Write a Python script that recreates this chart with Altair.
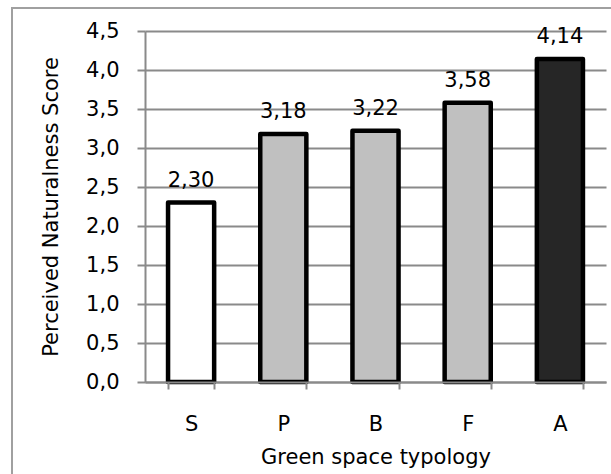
import altair as alt
import pandas as pd

categories = ["S", "P", "B", "F", "A"]
scores = [2.30, 3.18, 3.22, 3.58, 4.14]
fills = ["#ffffff", "#c0c0c0", "#c0c0c0", "#c0c0c0", "#262626"]
labels = ["2,30", "3,18", "3,22", "3,58", "4,14"]
y_ticks = [0.0, 0.5, 1.0, 1.5, 2.0, 2.5, 3.0, 3.5, 4.0, 4.5]

df = pd.DataFrame({"cat": categories, "score": scores, "fill": fills, "label": labels})

FONT = "DejaVu Sans"
GRID = "#8a8a8a"
FS = 21

x = alt.X("cat:N", sort=categories, scale=alt.Scale(paddingInner=0.5, paddingOuter=0.25),
          axis=alt.Axis(title="Green space typology", labelAngle=0, tickBand="extent",
                        tickSize=7, labelPadding=24, titlePadding=12, domainColor=GRID,
                        tickColor=GRID, domainWidth=2, tickWidth=2, grid=False, zindex=1,
                        labelFont=FONT, titleFont=FONT, labelFontSize=FS, titleFontSize=FS,
                        labelColor="black", titleColor="black", titleFontWeight="normal"))
y = alt.Y("score:Q", scale=alt.Scale(domain=[0, 4.5], nice=False, zero=True),
          axis=alt.Axis(title="Perceived Naturalness Score", values=y_ticks,
                        labelExpr="replace(format(datum.value, '.1f'), '.', ',')",
                        labelOverlap=False, labelFlush=False,
                        tickSize=8, labelPadding=18, titlePadding=24, domainColor=GRID,
                        tickColor=GRID, gridColor=GRID, domainWidth=2, tickWidth=2, gridWidth=2,
                        labelFont=FONT, titleFont=FONT, labelFontSize=FS, titleFontSize=FS,
                        labelColor="black", titleColor="black", titleFontWeight="normal"))

border = alt.Chart(pd.DataFrame({"a": [0]})).mark_rect(
    fill=None, stroke="#a0a0a0", strokeWidth=2, clip=False
).encode(x=alt.value(-133), x2=alt.value(500), y=alt.value(-23), y2=alt.value(500))

bars = alt.Chart(df).mark_bar(stroke="black", strokeWidth=4.5, strokeJoin="round").encode(
    x=x, y=y, fill=alt.Fill("fill:N", scale=None)
)

text = alt.Chart(df).mark_text(font=FONT, fontSize=FS, baseline="alphabetic", dy=-16, color="black").encode(
    x=x, y=y, text="label:N"
)

chart = alt.layer(border, bars, text).properties(
    width=461, height=351,
    autosize=alt.AutoSizeParams(type="none"),
    padding={"left": 145, "top": 31, "right": 5, "bottom": 92},
).configure_view(stroke=None)

chart.save("out.html", embed_options={"renderer": "svg", "actions": False})
